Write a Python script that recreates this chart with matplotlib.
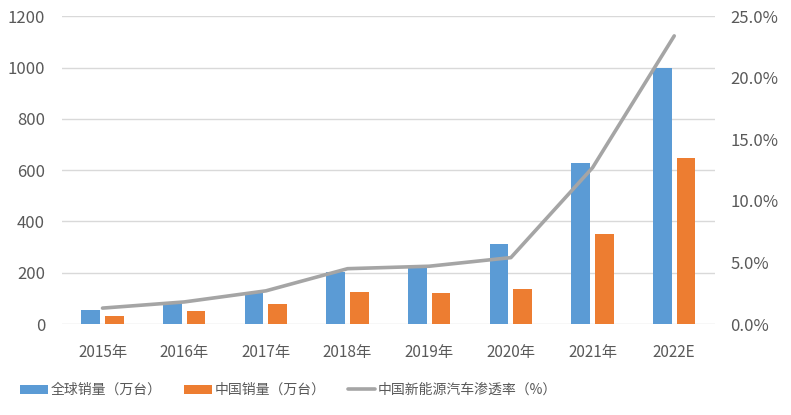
import numpy as np
import matplotlib
matplotlib.use("Agg")
import matplotlib.pyplot as plt
from matplotlib.ticker import FuncFormatter

plt.rcParams['font.family'] = ['Noto Sans CJK SC', 'DejaVu Sans']

years = ['2015年', '2016年', '2017年', '2018年', '2019年', '2020年', '2021年', '2022E']
global_sales = [55, 82, 125, 202, 222, 312, 628, 1000]
china_sales = [31, 51, 78, 125, 121, 137, 351, 647]
penetration = [1.3, 1.8, 2.7, 4.5, 4.7, 5.4, 12.7, 23.4]

blue = '#5B9BD5'
orange = '#ED7D31'
gray = '#A5A5A5'
text_color = '#595959'

fig = plt.figure(figsize=(7.91, 4.15), dpi=100)
ax = fig.add_axes([0.078, 0.219, 0.826, 0.742])
ax2 = ax.twinx()

x = np.arange(len(years))
w = 0.23
b1 = ax.bar(x - 0.145, global_sales, w, color=blue, label='全球销量（万台）', zorder=3)
b2 = ax.bar(x + 0.145, china_sales, w, color=orange, label='中国销量（万台）', zorder=3)
l1, = ax2.plot(x, penetration, color=gray, lw=2.6, label='中国新能源汽车渗透率（%）',
               solid_capstyle='round', zorder=4)

ax.set_xlim(-0.5, len(years) - 0.5)
ax.set_ylim(0, 1200)
ax.set_yticks(range(0, 1201, 200))
ax2.set_ylim(0, 25)
ax2.set_yticks(np.arange(0, 25.1, 5))
ax2.yaxis.set_major_formatter(FuncFormatter(lambda v, p: f'{v:.1f}%'))

ax.set_xticks(x)
ax.set_xticklabels(years)
ax.grid(axis='y', color='#D9D9D9', lw=1, zorder=0)
ax.set_axisbelow(True)

for a in (ax, ax2):
    for s in a.spines.values():
        s.set_visible(False)
    a.tick_params(length=0, labelsize=12, colors=text_color)
ax.tick_params(axis='x', pad=14, labelsize=11)
ax.tick_params(axis='y', pad=12)
ax2.tick_params(axis='y', pad=11)

ax.patch.set_visible(False)
ax2.patch.set_visible(False)
ax.set_zorder(1)
ax2.set_zorder(2)

fig.legend(handles=[b1, b2, l1], loc='center', bbox_to_anchor=(0.365, 0.06), ncol=3,
           frameon=False, fontsize=10, handlelength=2.0, handleheight=0.6,
           columnspacing=1.6, handletextpad=0.2, labelcolor=text_color)

fig.savefig('out.png', dpi=100)
